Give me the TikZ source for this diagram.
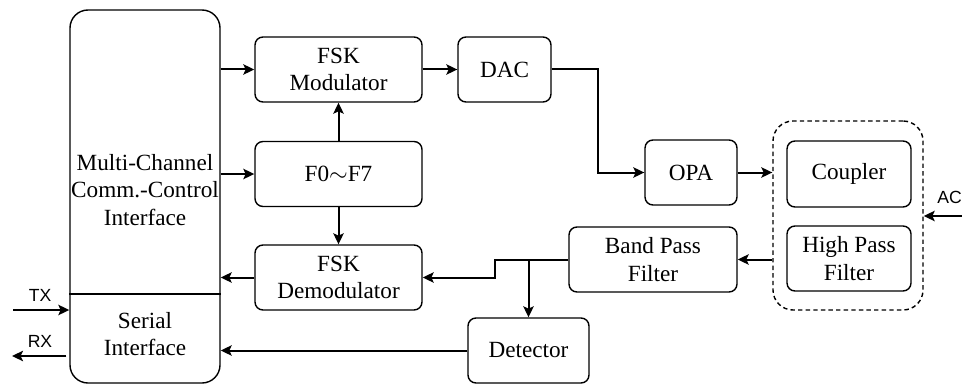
\documentclass[tikz,border=0pt]{standalone}
\usepackage{fontspec}
\setmainfont{Liberation Serif}
\newfontfamily\blockfont{Liberation Serif}
\newfontfamily\labelfont{Liberation Sans}
\usetikzlibrary{arrows.meta}
\begin{document}
\begin{tikzpicture}[x=0.5pt,y=-0.5pt,
  every node/.style={font=\blockfont\fontsize{11.6}{13.8}\selectfont, align=center, inner sep=0pt},
  blk/.style={draw, line width=0.7pt, rounded corners=4pt, minimum height=32.5pt},
  conn/.style={line width=1pt, -{Stealth[length=5.5pt,width=5.2pt,inset=1.2pt]}},
  sig/.style={font=\labelfont\fontsize{8.8}{10}\selectfont}]
\useasboundingbox (0,0) rectangle (962,385);

% controller block with its serial part
\node[draw, line width=0.7pt, rounded corners=9pt, minimum width=75pt, minimum height=186.5pt] (main) at (145,196.5) {};
\coordinate (split) at (0,294);
\draw[line width=0.7pt] (main.west |- split) -- (main.east |- split);
\node (mctext) at (145,190) {Multi-Channel\\Comm.-Control\\Interface};
\node (sertext) at (145,334) {Serial\\Interface};

% modulation chain
\node[blk, minimum width=83.5pt] (mod) at (338.5,69.5) {FSK\\Modulator};
\node[blk, minimum width=83.5pt] (freq) at (338.5,174) {F0$\sim$F7};
\node[blk, minimum width=83.5pt] (demod) at (338.5,277.5) {FSK\\Demodulator};
\node[blk, minimum width=46.5pt] (dac) at (504.5,69.5) {DAC};
\node[blk, minimum width=46pt] (opa) at (691,172.5) {OPA};

% line interface group
\node[draw, line width=0.7pt, dash pattern=on 2.2pt off 1.6pt, rounded corners=10pt, minimum width=75pt, minimum height=94.5pt] (line) at (848,215.5) {};
\node[blk, minimum width=62pt, minimum height=33pt] (coup) at (849,174) {Coupler};
\node[blk, minimum width=62pt] (hpf) at (849,258.5) {High Pass\\Filter};

% receive chain
\node[blk, minimum width=84pt] (bpf) at (653,259.5) {Band Pass\\Filter};
\node[blk, minimum width=60.5pt] (det) at (528.5,350.5) {Detector};

% connectors
\draw[conn] (main.east |- mod) -- (mod.west);
\draw[conn] (main.east |- freq) -- (freq.west);
\draw[conn] (demod.west) -- (main.east |- demod);
\draw[conn] (freq.north) -- (mod.south);
\draw[conn] (freq.south) -- (demod.north);
\draw[conn] (mod.east) -- (dac.west);
\coordinate (bend) at (598,0);
\draw[conn] (dac.east) -- (dac.east -| bend) |- (opa.west);
\draw[conn] (opa.east) -- (line.west |- opa);
\draw[conn] (line.west |- bpf) -- (bpf.east);
\coordinate (jog) at (495,0);
\draw[conn] (bpf.west) -- (bpf.west -| jog) |- (demod.east);
\draw[conn] (det.north |- bpf.west) -- (det.north);
\draw[conn] (det.west) -- (det.west -| main.east);

% serial and mains terminals
\coordinate (txin) at (13,310);
\coordinate (rxout) at (12,356);
\coordinate (acin) at (962,216);
\draw[conn] (txin) -- (txin -| main.west);
\draw[conn] (rxout -| main.west) ++(-3,0) -- (rxout);
\draw[conn] (acin) -- (line.east |- acin);
\node[sig] (tx) at (40,295) {TX};
\node[sig] (rx) at (40,341) {RX};
\node[sig, anchor=west] (ac) at (937,197) {AC};
\end{tikzpicture}
\end{document}
